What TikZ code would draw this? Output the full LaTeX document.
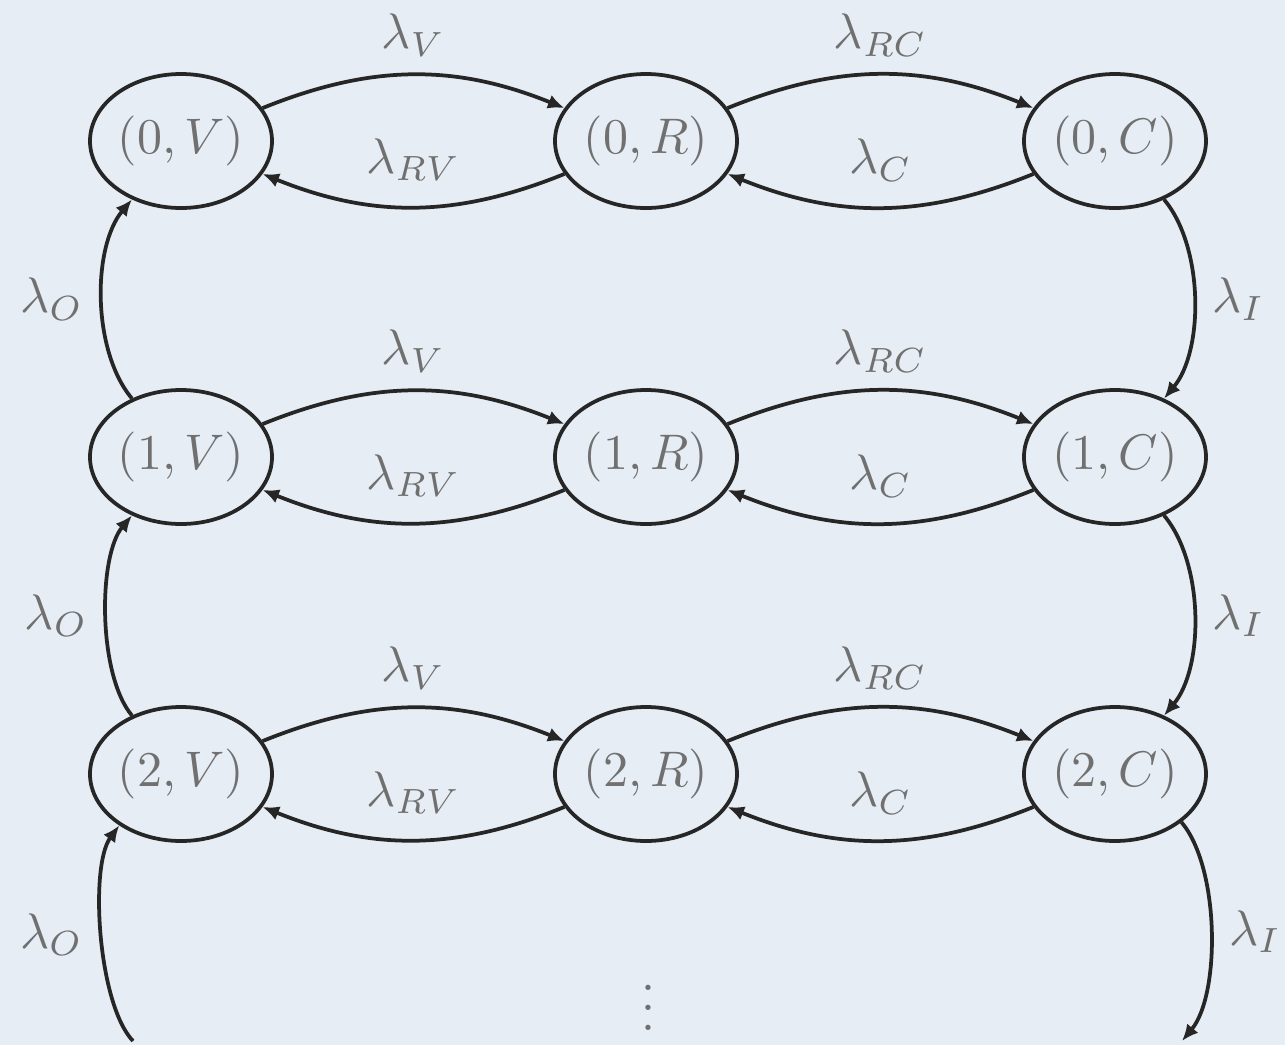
\documentclass[tikz,border=0pt]{standalone}
\usetikzlibrary{arrows.meta,shapes.geometric}
\definecolor{paper}{RGB}{231,237,245}
\definecolor{ink}{RGB}{38,38,38}
\definecolor{textink}{RGB}{112,112,112}

\begin{document}
\begin{tikzpicture}[x=0.2pt,y=0.2pt,
  state/.style={ellipse, draw=ink, line width=0.75pt, minimum width=36.4pt,
    minimum height=26.8pt, inner sep=0pt, text=textink},
  trans/.style={draw=ink, line width=0.75pt, -{Latex[length=3.3pt,width=2.9pt]}},
  lab/.style={text=textink}
]
\fill[paper] (0,0) rectangle (1285,1045);
\useasboundingbox (0,0) rectangle (1285,1045);

% states (level, mode)
\node[state] (v0) at (181,904) {$(0,V)$};
\node[state] (r0) at (646,904) {$(0,R)$};
\node[state] (c0) at (1115,904) {$(0,C)$};
\node[state] (v1) at (181,588) {$(1,V)$};
\node[state] (r1) at (646,588) {$(1,R)$};
\node[state] (c1) at (1115,588) {$(1,C)$};
\node[state] (v2) at (181,271) {$(2,V)$};
\node[state] (r2) at (646,271) {$(2,R)$};
\node[state] (c2) at (1115,271) {$(2,C)$};

\coordinate (vin) at (133,4);
\coordinate (cout) at (1182,4);

% transitions within each level
\foreach \k in {0,1,2}{
  \draw[trans] (v\k) to[bend left=22] node[above,lab] {$\lambda_V$} (r\k);
  \draw[trans] (r\k) to[bend left=22] node[above=1.5pt,lab] {$\lambda_{RV}$} (v\k);
  \draw[trans] (r\k) to[bend left=22] node[above,lab] {$\lambda_{RC}$} (c\k);
  \draw[trans] (c\k) to[bend left=22] node[above=1.5pt,lab] {$\lambda_C$} (r\k);
}

% transitions between levels
\draw[trans] (v1) to[bend left=40, looseness=0.8] node[left,lab] {$\lambda_O$} (v0);
\draw[trans] (v2) to[bend left=40, looseness=0.68] node[left,lab] {$\lambda_O$} (v1);
\draw[trans] (vin) to[bend left=40, looseness=0.6] node[left,lab] {$\lambda_O$} (v2);
\draw[trans] (c0) to[bend left=40, looseness=0.8] node[right,lab] {$\lambda_I$} (c1);
\draw[trans] (c1) to[bend left=40, looseness=0.8] node[right,lab] {$\lambda_I$} (c2);
\draw[trans] (c2) to[bend left=40, looseness=0.7] node[right,lab] {$\lambda_I$} (cout);

\node[text=textink] (more) at (648,52) {$\vdots$};
\end{tikzpicture}
\end{document}
